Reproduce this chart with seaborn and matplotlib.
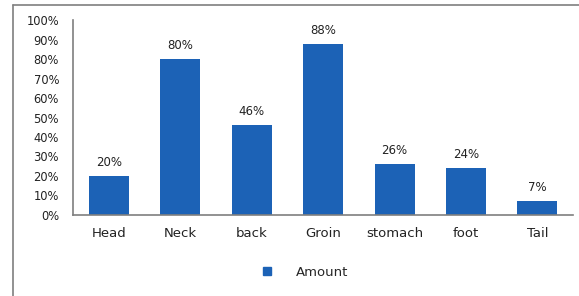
import pandas as pd
import seaborn as sns
import matplotlib.pyplot as plt
from matplotlib.lines import Line2D

# chart data
parts = ["Head", "Neck", "back", "Groin", "stomach", "foot", "Tail"]
amount = [20, 80, 46, 88, 26, 24, 7]
yticks = [0, 10, 20, 30, 40, 50, 60, 70, 80, 90, 100]

df = pd.DataFrame({"Part": parts, "Amount": amount})
bar_color = "#1c62b6"

sns.set_style("white")
plt.rcParams['font.family'] = ['DejaVu Sans']

fig = plt.figure(figsize=(5.79, 2.96), dpi=100)
ax = fig.add_axes([0.126, 0.274, 0.864, 0.658])

sns.barplot(data=df, x="Part", y="Amount", color=bar_color, width=0.56,
            saturation=1, linewidth=0, ax=ax)

# value labels on top of bars
for i, v in enumerate(amount):
    ax.text(i, v + 3.5, f"{v}%", ha="center", va="bottom", fontsize=8.5, color="#222222")

ax.set_ylim(0, 100)
ax.set_xlim(-0.5, len(parts) - 0.5)
ax.set_yticks(yticks)
ax.set_yticklabels([f"{t}%" for t in yticks], fontsize=8.3, color="#222222")
ax.tick_params(axis="y", length=0, pad=10)
ax.tick_params(axis="x", length=0, pad=9, labelsize=9.5, labelcolor="#222222")
ax.set_xlabel("")
ax.set_ylabel("")

for side in ["top", "right"]:
    ax.spines[side].set_visible(False)
for side in ["left", "bottom"]:
    ax.spines[side].set_color("#7f7f7f")
    ax.spines[side].set_linewidth(1.2)

# legend below the chart
handle = Line2D([], [], marker="s", linestyle="none", color=bar_color, markersize=6)
fig.legend([handle], ["Amount"], loc="center", bbox_to_anchor=(0.52, 0.08),
           frameon=False, fontsize=9.5, handletextpad=1.2)

# outer chart frame (top and left edges visible)
fig.add_artist(Line2D([0.0225, 1.0], [0.983, 0.983], transform=fig.transFigure,
                      color="#7f7f7f", linewidth=1.2))
fig.add_artist(Line2D([0.0225, 0.0225], [0.0, 0.983], transform=fig.transFigure,
                      color="#7f7f7f", linewidth=1.2))

fig.savefig("out.png", dpi=100)
